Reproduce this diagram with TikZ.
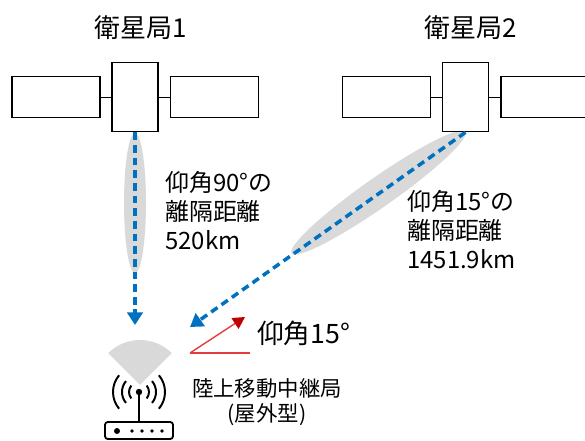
\documentclass[tikz,border=0pt]{standalone}
\usepackage{fontspec}
\setmainfont{Noto Sans CJK JP}
\usetikzlibrary{arrows.meta}
\definecolor{linkblue}{RGB}{0,112,192}
\definecolor{beamgray}{RGB}{217,217,217}
\definecolor{anglered}{RGB}{230,60,60}
\definecolor{tipred}{RGB}{192,0,0}

\begin{document}
\begin{tikzpicture}[
  panel/.style={draw,line width=1.2pt,fill=white,minimum width=2.2cm,minimum height=1.025cm,inner sep=0pt},
  satbody/.style={draw,line width=1.2pt,fill=white,minimum width=1.15cm,minimum height=1.725cm,inner sep=0pt},
  beam/.style={fill=beamgray},
  link/.style={linkblue,line width=2.5pt,dash pattern=on 5.5pt off 3.5pt,-{Triangle[width=11pt,length=9pt]}},
  title/.style={font=\fontsize{18.5}{22}\selectfont},
  note/.style={anchor=west,align=left,inner sep=0pt,font=\fontsize{17}{20.6}\selectfont}
]
  \useasboundingbox (0,0) rectangle (14.625,11.025);

  % beams
  \fill[beam] (3.375,5.95) ellipse [x radius=0.275, y radius=1.75];
  \fill[beam,rotate around={35:(9.46,6.21)}] (9.46,6.21) ellipse [x radius=2.65, y radius=0.37];
  \fill[beam] (3.5,1.4) -- ++(45:1.125) arc[start angle=45,end angle=135,radius=1.125] -- cycle;

  % satellites
  \node[panel] (s1l) at (1.4,8.6) {};
  \node[satbody] (s1) at (3.375,8.6) {};
  \node[panel] (s1r) at (5.3625,8.6) {};
  \draw (s1l) -- (s1);
  \draw (s1) -- (s1r);
  \node[title] (t1) at (3.525,10.325) {衛星局1};

  \node[panel] (s2l) at (9.6625,8.6) {};
  \node[satbody] (s2) at (11.6375,8.6) {};
  \node[panel] (s2r) at (13.625,8.6) {};
  \draw (s2l) -- (s2);
  \draw (s2) -- (s2r);
  \node[title] (t2) at (11.775,10.325) {衛星局2};

  % links
  \coordinate (rx1) at (3.375,2.9);
  \coordinate (rx2) at (4.75,2.85);
  \draw[link] (s1.south) -- (rx1);
  \draw[link] (s2.south) -- (rx2);

  \node[note] (d1) at (4.125,5.75) {仰角90°の\\離隔距離\\520km};
  \node[note] (d2) at (10.175,5.275) {仰角15°の\\離隔距離\\1451.9km};

  % elevation angle
  \coordinate (o) at (4.75,2.2);
  \coordinate (h) at (6.25,2.2);
  \coordinate (e) at (6.125,3.1);
  \draw[anglered,line width=1pt] (o) -- (h);
  \draw[anglered,line width=1pt,-{Triangle[width=9pt,length=8.5pt,color=tipred]}] (o) -- (e);
  \node[anchor=west,inner sep=0pt,font=\fontsize{19}{22}\selectfont] (ang) at (6.425,2.7) {仰角15°};

  % relay station
  \coordinate (ant) at (3.475,1.225);
  \fill (ant) circle (0.08);
  \draw[line width=1.3pt] (ant) -- (3.475,0.475);
  \foreach \r in {0.25,0.425,0.65} {
    \draw[line width=1.4pt] (ant) ++(40:\r) arc[start angle=40,end angle=-40,radius=\r];
    \draw[line width=1.4pt] (ant) ++(140:\r) arc[start angle=140,end angle=220,radius=\r];
  }
  \draw[line width=1.3pt,rounded corners=2pt] (2.625,0.05) rectangle (4.325,0.475);
  \fill (2.925,0.25) circle (0.075);
  \foreach \x in {3.3,3.55,3.8,4.05}
    \fill (\x,0.25) circle (0.045);
  \node[align=center,font=\fontsize{15.2}{17.8}\selectfont] (st) at (6.675,0.96) {陸上移動中継局\\(屋外型)};
\end{tikzpicture}
\end{document}
